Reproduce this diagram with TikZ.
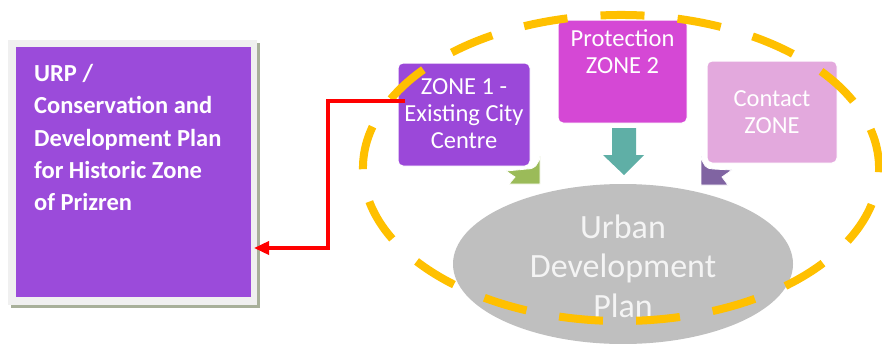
\documentclass[tikz,border=0pt]{standalone}
\usepackage{fontspec}
\setmainfont{Carlito}
\usetikzlibrary{arrows.meta,shapes.geometric}
\definecolor{leftp}{HTML}{9B4BDA}
\definecolor{zonea}{HTML}{9B48D9}
\definecolor{zoneb}{HTML}{D548D5}
\definecolor{zonec}{HTML}{E3A9DD}
\definecolor{grayc}{HTML}{BFBFBF}
\definecolor{orangec}{HTML}{FFC000}
\definecolor{tealc}{HTML}{5FAFA6}
\definecolor{greenc}{HTML}{9BBB59}
\definecolor{purplec}{HTML}{8064A2}
\definecolor{framec}{HTML}{F0F0F0}
\definecolor{shadowc}{HTML}{A8B09A}
\definecolor{redc}{HTML}{FF0000}
\definecolor{lighttext}{HTML}{F4F4F4}
\begin{document}
\begin{tikzpicture}[x=1pt,y=-1pt,
  zbox/.style={draw=white, line width=1pt, rounded corners=5pt, inner sep=0pt},
  ztext/.style={text=white, align=center, inner sep=0pt, font=\fontsize{24.5}{27}\selectfont},
  blockarrow/.style={draw=white, line width=0.8pt},
  redline/.style={draw=redc, line width=3.5pt, -{Triangle[length=15pt,width=13pt]}},
  dashring/.style={draw=orangec, line width=8pt, dash pattern=on 44pt off 33.2pt}
]
\useasboundingbox (0,0) rectangle (882,343);
% left box with frame and shadow
\fill[shadowc] (11,43) rectangle (260,308);
\fill[framec] (8,40) rectangle (257,305);
\node[fill=leftp, minimum width=235pt, minimum height=250pt, anchor=north west, inner sep=0pt] (urp) at (16,47) {};
\node[anchor=north west, text=white, align=left, inner sep=0pt,
      font=\bfseries\fontsize{24.5}{32.4}\selectfont] (urpt) at (34,64)
  {URP /\\Conservation and\\Development Plan\\for Historic Zone\\of Prizren};

% zone boxes
\node[zbox, fill=zonea, minimum width=132pt, minimum height=103pt] (z1) at (464,114.5) {};
\node[ztext] (z1t) at (464,114) {ZONE 1 -\\Existing City\\Centre};
\node[zbox, fill=zoneb, minimum width=129pt, minimum height=103pt] (z2) at (622.5,71.5) {};
\node[ztext] (z2t) at (622.5,52) {Protection\\ZONE 2};
\node[zbox, fill=zonec, minimum width=130pt, minimum height=102pt] (z3) at (772,112) {};
\node[ztext] (z3t) at (772,112) {Contact\\ZONE};

% block arrows
\fill[tealc] (612,128) -- (636,128) -- (636,155) -- (644,155) -- (624,175) -- (603,155) -- (612,155) -- cycle;
\filldraw[fill=greenc, blockarrow] (540,156) .. controls (538,165) and (535,169) .. (527,169) -- (506,171) -- (515,177) -- (509,184) -- (540,184) -- cycle;
\filldraw[fill=purplec, blockarrow] (701,156) .. controls (703,165) and (706,169) .. (713,169) -- (732,170) -- (722,177) -- (728,185) -- (701,185) -- cycle;

% urban development plan
\node[ellipse, fill=grayc, minimum width=340pt, minimum height=160pt, inner sep=0pt] (udp) at (623,264) {};
\node[text=lighttext, align=center, inner sep=0pt, font=\fontsize{34}{39.5}\selectfont] (udpt) at (623,266) {Urban\\Development\\Plan};

% dashed ring
\draw[dashring] (621,168) ++(76.8:258 and 153) arc[start angle=76.8, end angle=436.8, x radius=258, y radius=153];

% red connector
\coordinate (rs) at (405,101);
\coordinate (ae) at (254,248);
\draw[redline] (rs) -- (328,101) -- (328,248) -- (ae);
\end{tikzpicture}
\end{document}
